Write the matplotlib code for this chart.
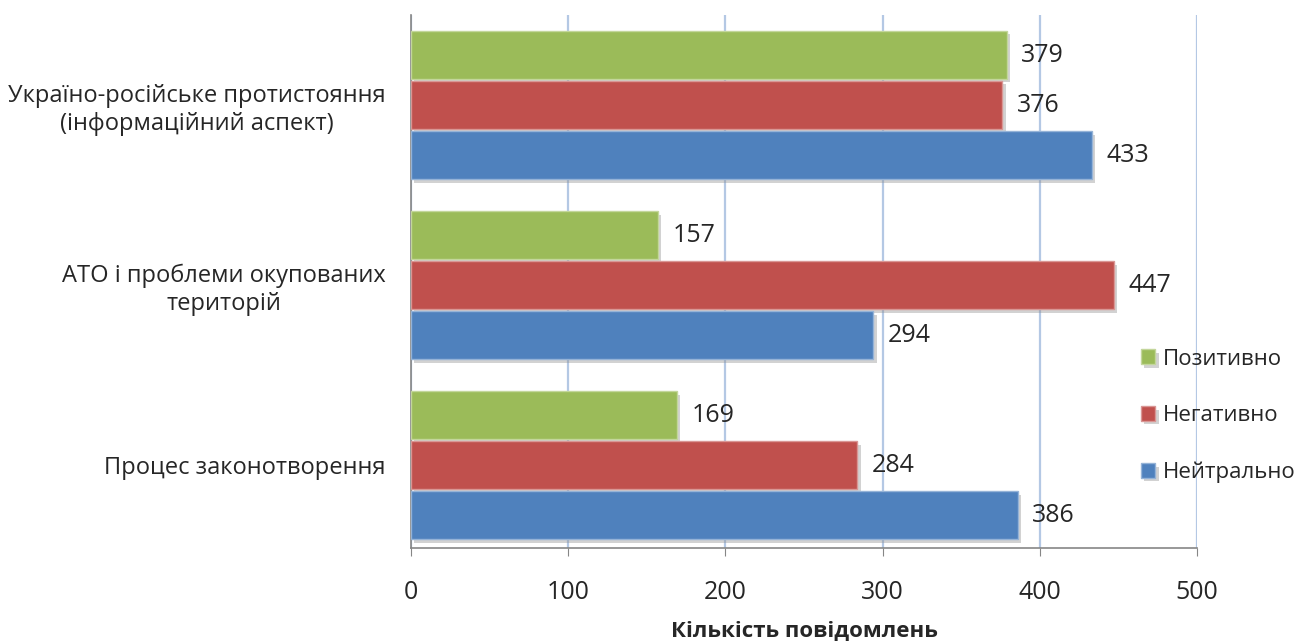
import matplotlib
matplotlib.use("Agg")
import matplotlib.pyplot as plt
import matplotlib.patheffects as pe
import numpy as np

categories = ["Україно-російське протистояння\n(інформаційний аспект)",
              "АТО і проблеми окупованих\nтериторій",
              "Процес законотворення"]
series_names = ["Позитивно", "Негативно", "Нейтрально"]
positive = [379, 157, 169]
negative = [376, 447, 284]
neutral = [433, 294, 386]
xticks = [0, 100, 200, 300, 400, 500]
xlabel = "Кількість повідомлень"

colors = ["#9BBB59", "#C0504D", "#4F81BD"]
edges = ["#C3D69B", "#D99694", "#95B3D7"]

plt.rcParams['font.family'] = ['Open Sans', 'DejaVu Sans']

fig = plt.figure(figsize=(13.07, 6.41), dpi=100)
ax = fig.add_axes([411/1307, 1-548/641, (1197-411)/1307, (548-15)/641])

y = np.arange(len(categories))
pitch = 50/180
h = 48/180
offsets = [-pitch, 0, pitch]
shadow = [pe.SimplePatchShadow(offset=(2.5, -2.5), shadow_rgbFace='#909090', alpha=0.4), pe.Normal()]
for vals, name, c, ec, off in zip([positive, negative, neutral], series_names, colors, edges, offsets):
    bars = ax.barh(y + off, vals, height=h, color=c, edgecolor=ec, linewidth=1.0,
                   label=name, zorder=3)
    for b in bars:
        b.set_path_effects(shadow)
    for yi, v in zip(y + off, vals):
        ax.annotate(str(v), xy=(v, yi), xytext=(10.5, 0), textcoords='offset points',
                    va='center', ha='left', fontsize=18, color='#262626', zorder=4)

ax.set_xlim(0, 500)
ax.set_ylim(2.46, -0.5)
ax.set_xticks(xticks)
ax.set_xticklabels([str(t) for t in xticks], fontsize=18, color='#262626')
ax.set_yticks(y)
ax.set_yticklabels(categories, fontsize=17, color='#262626', multialignment='center')
ax.tick_params(axis='y', length=0, pad=18)
ax.tick_params(axis='x', length=6, color='#868686', pad=17)

ax.grid(axis='x', color='#B4C8E4', linewidth=1.6, zorder=0)
ax.set_axisbelow(True)
for s in ['top', 'right']:
    ax.spines[s].set_visible(False)
ax.spines['left'].set_color('#868686')
ax.spines['bottom'].set_color('#868686')
ax.spines['left'].set_linewidth(1.2)
ax.spines['bottom'].set_linewidth(1.2)

ax.set_xlabel(xlabel, fontsize=16, fontweight='bold', color='#262626', labelpad=11)

leg = ax.legend(loc='center left', bbox_to_anchor=(1141/1307, 1-416/641),
                bbox_transform=fig.transFigure, frameon=False, fontsize=16,
                handlelength=0.65, handleheight=0.65, handletextpad=0.35,
                labelspacing=1.6, borderaxespad=0, borderpad=0)
for t in leg.get_texts():
    t.set_color('#262626')

fig.savefig("out.png", dpi=100)
